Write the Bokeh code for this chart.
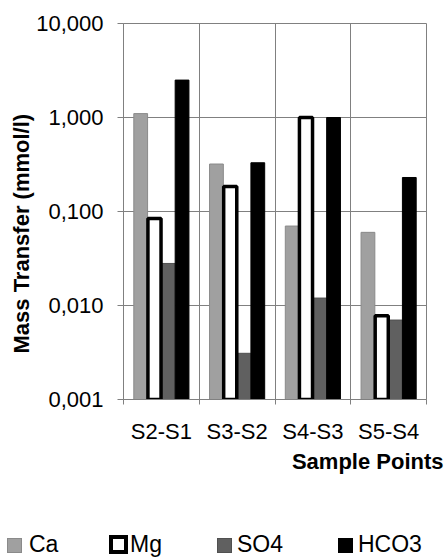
from bokeh.plotting import figure
from bokeh.layouts import column
from bokeh.models import (FixedTicker, ColumnDataSource, Title, Div)
from bokeh.transform import dodge
from bokeh.embed import file_html
from bokeh.resources import INLINE

# ---- data ----
categories = ["S2-S1", "S3-S2", "S4-S3", "S5-S4"]
series_names = ["Ca", "Mg", "SO4", "HCO3"]
ca = [1.10, 0.32, 0.070, 0.060]
mg = [0.084, 0.185, 1.00, 0.0078]
so4 = [0.028, 0.0031, 0.012, 0.0070]
hco3 = [2.50, 0.33, 1.00, 0.23]
y_ticks = [0.001, 0.01, 0.1, 1, 10]
y_tick_labels = ["0,001", "0,010", "0,100", "1,000", "10,000"]
x_title = "Sample Points"
y_title = "Mass Transfer (mmol/l)"

FONT = "Liberation Sans"
FS = "22px"
GRID = "#808080"

styles = {
    "Ca": dict(fill_color="#a0a0a0", line_color="#8a8a8a", line_width=1),
    "Mg": dict(fill_color="white", line_color="black", line_width=3.5),
    "SO4": dict(fill_color="#606060", line_color="#505050", line_width=1),
    "HCO3": dict(fill_color="black", line_color="black", line_width=1),
}

p = figure(frame_width=303, frame_height=376,
           min_border_left=123, min_border_right=21, min_border_top=23, min_border_bottom=91,
           x_range=(0, len(categories)), y_range=(y_ticks[0], y_ticks[-1]),
           y_axis_type="log", output_backend="svg", toolbar_location=None)
p.background_fill_color = "white"
p.border_fill_color = "white"
p.outline_line_color = GRID

src = ColumnDataSource(dict(x=[i + 0.5 for i in range(len(categories))],
                            ca=ca, mg=mg, so4=so4, hco3=hco3))
bw = 0.182
base = y_ticks[0]
p.vbar(x=dodge("x", -1.5 * bw, range=p.x_range), top="ca", bottom=base, width=bw,
       source=src, **styles["Ca"])
p.vbar(x=dodge("x", 0.5 * bw, range=p.x_range), top="so4", bottom=base, width=bw,
       source=src, **styles["SO4"])
p.vbar(x=dodge("x", 1.5 * bw, range=p.x_range), top="hco3", bottom=base, width=bw,
       source=src, **styles["HCO3"])
p.vbar(x=dodge("x", -0.5 * bw, range=p.x_range), top="mg", bottom=base, width=bw * 0.95,
       source=src, **styles["Mg"])

# x axis
p.xaxis.ticker = FixedTicker(ticks=[i + 0.5 for i in range(len(categories))],
                             minor_ticks=list(range(len(categories) + 1)))
p.xaxis.major_label_overrides = {i + 0.5: c for i, c in enumerate(categories)}
p.xaxis.major_tick_line_color = None
p.xaxis.major_tick_out = 0
p.xaxis.minor_tick_in = 0
p.xaxis.minor_tick_out = 5
p.xaxis.minor_tick_line_color = GRID
p.xaxis.major_label_standoff = 14
p.xgrid.ticker = FixedTicker(ticks=list(range(len(categories) + 1)))

# y axis
p.yaxis.ticker = FixedTicker(ticks=y_ticks, minor_ticks=[])
p.yaxis.major_label_overrides = {t: l for t, l in zip(y_ticks, y_tick_labels)}
p.yaxis.major_tick_in = 0
p.yaxis.major_tick_out = 6
p.yaxis.major_tick_line_color = GRID
p.yaxis.minor_tick_line_color = None
p.yaxis.major_label_standoff = 14

for ax in (p.xaxis, p.yaxis):
    ax.axis_line_color = GRID
    ax.major_label_text_font = FONT
    ax.major_label_text_font_size = FS
    ax.major_label_text_color = "black"

for g in (p.xgrid, p.ygrid):
    g.grid_line_color = GRID
    g.grid_line_width = 1

# axis titles as side-panel titles
p.add_layout(Title(text=x_title, align="right", offset=-17, text_font=FONT,
                   text_font_size="22px", text_font_style="bold", text_color="black",
                   standoff=0), "below")
p.add_layout(Title(text=y_title, align="left", offset=46, text_font=FONT,
                   text_font_size="22px", text_font_style="bold", text_color="black",
                   standoff=0), "left")

# legend strip below the chart (HTML swatches + real text)
swatch_x = [7, 109, 217, 338]
label_x = [29, 130, 237, 358]
parts = []
for name, sx, lx in zip(series_names, swatch_x, label_x):
    st = styles[name]
    thick = st["line_width"] > 2
    bwid = 4 if thick else 1
    size = 19 if thick else 15
    top = 45 if thick else 48
    parts.append(
        f'<div style="position:absolute;left:{sx}px;top:{top}px;width:{size}px;height:{size}px;'
        f'box-sizing:border-box;background:{st["fill_color"]};'
        f'border:{bwid}px solid {st["line_color"]};"></div>'
        f'<div style="position:absolute;left:{lx}px;top:43px;line-height:23px;'
        f'font-family:\'{FONT}\';font-size:23px;color:black;white-space:nowrap;">{name}</div>'
    )
legend_div = Div(text='<div style="position:relative;width:447px;height:67px;">' + "".join(parts) + "</div>",
                 width=447, height=67, margin=0)

layout = column(p, legend_div, spacing=0)
open("out.html", "w").write(file_html(layout, INLINE))
